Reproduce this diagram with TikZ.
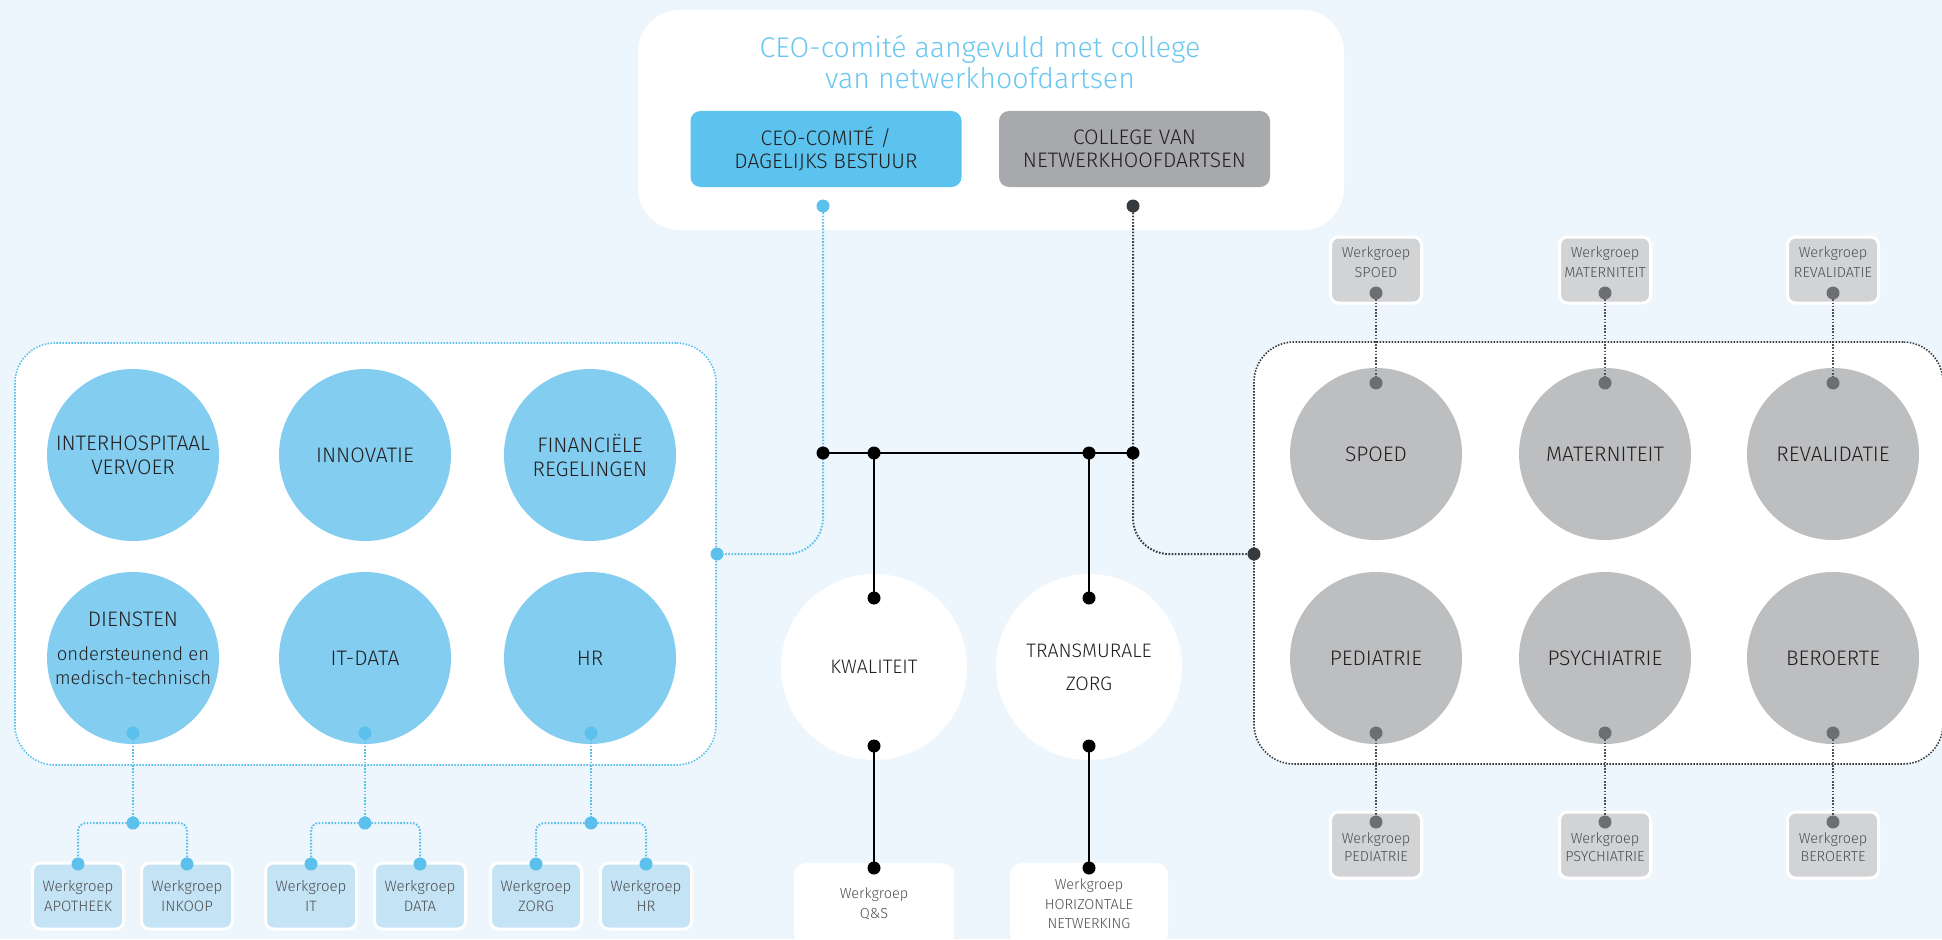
\documentclass[tikz,border=0pt]{standalone}
\usepackage{fontspec}
\setmainfont{Fira Sans Light}
\pgfdeclarelayer{ln}
\pgfdeclarelayer{top}
\pgfsetlayers{main,ln,top}
\definecolor{bgc}{HTML}{EEF6FD}
\definecolor{skyt}{HTML}{6CC7F0}
\definecolor{ceoc}{HTML}{5BC3EE}
\definecolor{colc}{HTML}{A7A9AC}
\definecolor{bcirc}{HTML}{82CDF0}
\definecolor{gcirc}{HTML}{BCBEC0}
\definecolor{bwg}{HTML}{C4E4F6}
\definecolor{gwg}{HTML}{D1D3D4}
\definecolor{txt}{HTML}{231F20}
\definecolor{bdot}{HTML}{5BC0EB}
\definecolor{ddot}{HTML}{353A3E}
\definecolor{gdot}{HTML}{6D6E71}
\definecolor{gline}{HTML}{4D4E50}
\newcommand\myfs[2]{\fontsize{#1}{#2}\selectfont}
\tikzset{
  box/.style={rectangle, inner sep=0pt, align=center, text=txt},
  topbox/.style={box, fill=white, minimum width=706pt, minimum height=220pt, rounded corners=42pt},
  titletxt/.style={box, text=skyt, font=\myfs{28.5}{31}},
  ceobox/.style={box, fill=ceoc, minimum width=271pt, minimum height=76pt, rounded corners=10pt, font=\myfs{21}{23}},
  colbox/.style={ceobox, fill=colc},
  lcont/.style={box, fill=white, draw=bdot, line width=1.6pt, dash pattern=on 1.5pt off 1.5pt, minimum width=701pt, minimum height=422pt, rounded corners=40pt},
  rcont/.style={lcont, draw=ddot, minimum width=689pt},
  bcircle/.style={circle, inner sep=0pt, minimum size=172pt, fill=bcirc, align=center, text=txt, font=\myfs{21}{24}},
  gcircle/.style={bcircle, fill=gcirc},
  wcircle/.style={bcircle, fill=white, minimum size=186pt, font=\myfs{19.5}{33}},
  txtnode/.style={inner sep=0pt, align=center, text=txt},
  bwgbox/.style={box, fill=bwg, draw=white, line width=3pt, minimum width=91pt, minimum height=66pt, rounded corners=8pt, font=\myfs{15}{20}, text=gline},
  gwgbox/.style={bwgbox, fill=gwg},
  wwgbox/.style={box, fill=white, minimum width=160pt, minimum height=82pt, rounded corners=12pt, font=\myfs{14.5}{19.5}, text=gline},
  dotn/.style={circle, inner sep=0pt, minimum size=13pt},
  bdotn/.style={dotn, fill=bdot},
  ddotn/.style={dotn, fill=ddot},
  gdotn/.style={dotn, fill=gdot},
  kdotn/.style={dotn, fill=black},
  bluedl/.style={draw=bdot, line width=2pt, dash pattern=on 1.6pt off 1.6pt},
  darkdl/.style={draw=ddot, line width=2pt, dash pattern=on 1.6pt off 1.6pt},
  greydl/.style={draw=gline, line width=2pt, dash pattern=on 1.6pt off 1.6pt},
  solidl/.style={draw=black, line width=2.8pt},
}
\begin{document}
\begin{tikzpicture}[x=1pt,y=-1pt]
\fill[bgc] (0,0) rectangle (1942,939);
\useasboundingbox (0,0) rectangle (1942,939);

% top board
\node[topbox] (topb) at (991,120) {};
\node[titletxt] (title) at (980,62) {CEO-comité aangevuld met college\\van netwerkhoofdartsen};
\node[ceobox] (ceo) at (826,149) {CEO-COMITÉ /\\DAGELIJKS BESTUUR};
\node[colbox] (col) at (1134.5,149) {COLLEGE VAN\\NETWERKHOOFDARTSEN};

% containers
\node[lcont] (lcont) at (365.5,554) {};
\node[rcont] (rcont) at (1598.5,553) {};

% left circles
\node[bcircle] (c1) at (133,455) {INTERHOSPITAAL\\VERVOER};
\node[bcircle] (c2) at (365,455) {INNOVATIE};
\node[bcircle] (c3) at (590,455) {FINANCIËLE\\REGELINGEN};
\node[bcircle] (c4) at (133,658) {};
\node[txtnode, font=\myfs{21}{24}] (c4t) at (133,648) {DIENSTEN\\[10pt]{\myfs{18.5}{22}ondersteunend en}\\{\myfs{18.5}{22}medisch-technisch}};
\node[bcircle] (c5) at (365,658) {IT-DATA};
\node[bcircle] (c6) at (590,658) {HR};

% right circles
\node[gcircle] (r1) at (1376,454) {SPOED};
\node[gcircle] (r2) at (1605,454) {MATERNITEIT};
\node[gcircle] (r3) at (1833,454) {REVALIDATIE};
\node[gcircle] (r4) at (1376,658) {PEDIATRIE};
\node[gcircle] (r5) at (1605,658) {PSYCHIATRIE};
\node[gcircle] (r6) at (1833,658) {BEROERTE};

% middle circles
\node[wcircle] (kw) at (874,667) {KWALITEIT};
\node[wcircle] (tz) at (1089,667) {TRANSMURALE\\ZORG};

% werkgroep boxes left
\node[bwgbox] (w1) at (78,896) {Werkgroep\\APOTHEEK};
\node[bwgbox] (w2) at (187,896) {Werkgroep\\INKOOP};
\node[bwgbox] (w3) at (311,896) {Werkgroep\\IT};
\node[bwgbox] (w4) at (420,896) {Werkgroep\\DATA};
\node[bwgbox] (w5) at (536,896) {Werkgroep\\ZORG};
\node[bwgbox] (w6) at (646,896) {Werkgroep\\HR};

% werkgroep middle
\node[wwgbox] (wq) at (874,904) {Werkgroep\\Q\&S};
\node[wwgbox, minimum width=158pt] (wh) at (1089,904) {Werkgroep\\HORIZONTALE\\NETWERKING};

% werkgroep right top
\node[gwgbox] (g1) at (1376,270) {};
\node[txtnode, text=gline, font=\myfs{14.5}{20}] (g1t) at (1376,262) {Werkgroep\\SPOED};
\node[gwgbox] (g2) at (1605,270) {};
\node[txtnode, text=gline, font=\myfs{14.5}{20}] (g2t) at (1605,262) {Werkgroep\\MATERNITEIT};
\node[gwgbox] (g3) at (1833,270) {};
\node[txtnode, text=gline, font=\myfs{14.5}{20}] (g3t) at (1833,262) {Werkgroep\\REVALIDATIE};
% werkgroep right bottom
\node[gwgbox] (g4) at (1376,845) {};
\node[txtnode, text=gline, font=\myfs{14.5}{18}] (g4t) at (1376,847) {Werkgroep\\PEDIATRIE};
\node[gwgbox] (g5) at (1605,845) {};
\node[txtnode, text=gline, font=\myfs{14.5}{18}] (g5t) at (1605,847) {Werkgroep\\PSYCHIATRIE};
\node[gwgbox] (g6) at (1833,845) {};
\node[txtnode, text=gline, font=\myfs{14.5}{18}] (g6t) at (1833,847) {Werkgroep\\BEROERTE};

% dots
\begin{pgfonlayer}{top}
\node[bdotn] (ceoD) at (823,206) {};
\node[ddotn] (colD) at (1133,206) {};
\node[bdotn] (lD) at (717,554) {};
\node[ddotn] (rD) at (1254,554) {};
\node[kdotn] (bA) at (823,453) {};
\node[kdotn] (bB) at (874,453) {};
\node[kdotn] (bC) at (1089,453) {};
\node[kdotn] (bD) at (1133,453) {};
\node[kdotn] (kT) at (874,598) {};
\node[kdotn] (kB) at (874,746) {};
\node[kdotn] (qD) at (874,868) {};
\node[kdotn] (tT) at (1089,598) {};
\node[kdotn] (tB) at (1089,746) {};
\node[kdotn] (hD) at (1089,868) {};
\node[bdotn] (c4D) at (133,733) {};
\node[bdotn] (c5D) at (365,733) {};
\node[bdotn] (c6D) at (591,733) {};
\node[bdotn] (j1) at (133,823) {};
\node[bdotn] (j2) at (365,823) {};
\node[bdotn] (j3) at (591,823) {};
\node[bdotn] (w1D) at (78,864) {};
\node[bdotn] (w2D) at (187,864) {};
\node[bdotn] (w3D) at (311,864) {};
\node[bdotn] (w4D) at (420,864) {};
\node[bdotn] (w5D) at (536,864) {};
\node[bdotn] (w6D) at (646,864) {};
\node[gdotn] (g1D) at (1376,293) {};
\node[gdotn] (g2D) at (1605,293) {};
\node[gdotn] (g3D) at (1833,293) {};
\node[gdotn] (r1D) at (1376,383) {};
\node[gdotn] (r2D) at (1605,383) {};
\node[gdotn] (r3D) at (1833,383) {};
\node[gdotn] (r4D) at (1376,733) {};
\node[gdotn] (r5D) at (1605,733) {};
\node[gdotn] (r6D) at (1833,733) {};
\node[gdotn] (g4D) at (1376,822) {};
\node[gdotn] (g5D) at (1605,822) {};
\node[gdotn] (g6D) at (1833,822) {};
\end{pgfonlayer}

% connectors
\begin{pgfonlayer}{ln}
\draw[bluedl, rounded corners=36pt] (ceoD.center) |- (lD.center);
\draw[darkdl, rounded corners=36pt] (colD.center) |- (rD.center);
\draw[solidl] (bA.center) -- (bD.center);
\draw[solidl] (bB.center) -- (kT.center);
\draw[solidl] (kB.center) -- (qD.center);
\draw[solidl] (bC.center) -- (tT.center);
\draw[solidl] (tB.center) -- (hD.center);
\draw[bluedl] (c4D.center) -- (j1.center);
\draw[bluedl] (c5D.center) -- (j2.center);
\draw[bluedl] (c6D.center) -- (j3.center);
\draw[bluedl, rounded corners=8pt] (j1.center) -| (w1D.center);
\draw[bluedl, rounded corners=8pt] (j1.center) -| (w2D.center);
\draw[bluedl, rounded corners=8pt] (j2.center) -| (w3D.center);
\draw[bluedl, rounded corners=8pt] (j2.center) -| (w4D.center);
\draw[bluedl, rounded corners=8pt] (j3.center) -| (w5D.center);
\draw[bluedl, rounded corners=8pt] (j3.center) -| (w6D.center);
\draw[greydl] (g1D.center) -- (r1D.center);
\draw[greydl] (g2D.center) -- (r2D.center);
\draw[greydl] (g3D.center) -- (r3D.center);
\draw[greydl] (r4D.center) -- (g4D.center);
\draw[greydl] (r5D.center) -- (g5D.center);
\draw[greydl] (r6D.center) -- (g6D.center);
\end{pgfonlayer}
\end{tikzpicture}
\end{document}
